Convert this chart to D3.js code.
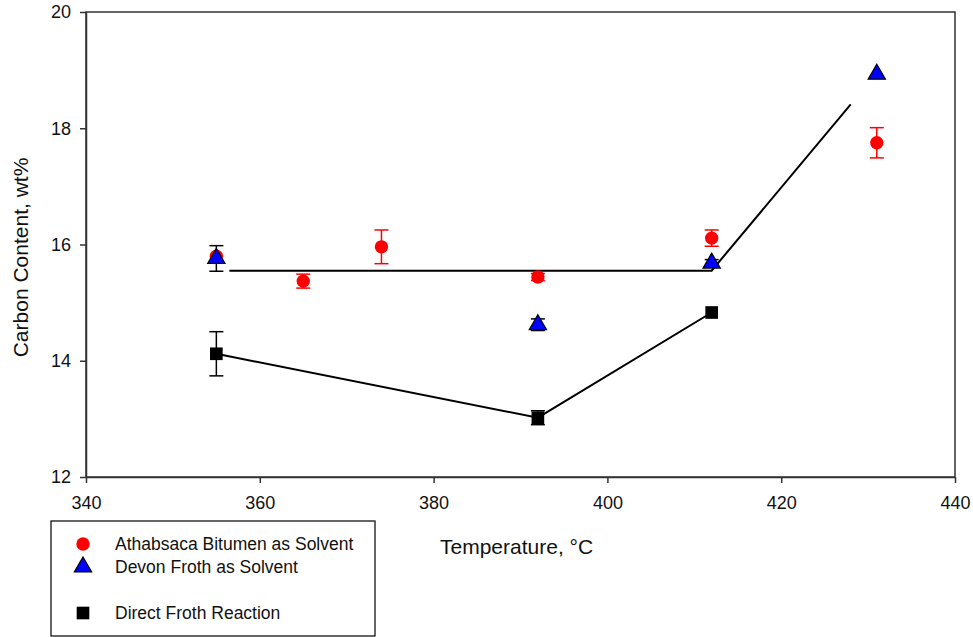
<!DOCTYPE html>
<html><head><meta charset="utf-8">
<script src="https://cdn.jsdelivr.net/npm/d3@7"></script>
<style>body{margin:0;background:#fff}svg{display:block;font-family:"Liberation Sans",Arial,sans-serif}</style>
</head><body><svg id="c" width="973" height="637"></svg>
<script>
const athTemp = [355, 365, 374, 392, 412, 431];
const athVal  = [15.80, 15.37, 15.96, 15.44, 16.11, 17.75];
const athErr  = [0.00, 0.12, 0.29, 0.06, 0.14, 0.26];
const devTemp = [355, 392, 412, 431];
const devVal  = [15.76, 14.62, 15.68, 18.93];
const devErr  = [0.22, 0.10, 0.06, 0.00];
const dirTemp = [355, 392, 412];
const dirVal  = [14.12, 13.02, 14.83];
const dirErr  = [0.38, 0.12, 0.00];
const fitTemp = [356.5, 412, 428];
const fitVal  = [15.55, 15.55, 18.41];
const xTicks = [340, 360, 380, 400, 420, 440];
const yTicks = [12, 14, 16, 18, 20];

const svg = d3.select("#c");
const x = d3.scaleLinear().domain([340, 440]).range([86, 955]);
const y = d3.scaleLinear().domain([12, 20]).range([477, 12]);
const axisCol = "#333";

svg.append("rect").attr("x", x(340)).attr("y", y(20)).attr("width", x(440)-x(340)).attr("height", y(12)-y(20))
  .attr("fill", "none").attr("stroke", axisCol).attr("stroke-width", 1.5);

const gx = svg.append("g").attr("transform", `translate(0,${y(12)})`)
  .call(d3.axisBottom(x).tickValues(xTicks).tickSize(6).tickPadding(13).tickSizeOuter(0));
const gy = svg.append("g").attr("transform", `translate(${x(340)},0)`)
  .call(d3.axisLeft(y).tickValues(yTicks).tickSize(6).tickPadding(9).tickSizeOuter(0));
[gx, gy].forEach(g => {
  g.select(".domain").attr("stroke", axisCol).attr("stroke-width", 1.5);
  g.selectAll(".tick line").attr("stroke", axisCol).attr("stroke-width", 1.5);
  g.selectAll(".tick text").attr("fill", "#111").attr("font-size", 18).attr("font-family", "Liberation Sans, Arial, sans-serif");
});

svg.append("text").attr("x", 440).attr("y", 554).attr("font-size", 21).attr("fill", "#111").text("Temperature, °C");
svg.append("text").attr("transform", `translate(28,${(y(12)+y(20))/2 + 13}) rotate(-90)`).attr("text-anchor", "middle")
  .attr("font-size", 21).attr("fill", "#111").text("Carbon Content, wt%");

const line = d3.line().x(d => x(d[0])).y(d => y(d[1]));
svg.append("path").attr("d", line(fitTemp.map((t, i) => [t, fitVal[i]])))
  .attr("fill", "none").attr("stroke", "#000").attr("stroke-width", 2);
svg.append("path").attr("d", line(dirTemp.map((t, i) => [t, dirVal[i]])))
  .attr("fill", "none").attr("stroke", "#000").attr("stroke-width", 2);

function errBars(ts, vs, es, col) {
  ts.forEach((t, i) => {
    if (!es[i]) return;
    const cx = x(t), y1 = y(vs[i] + es[i]), y2 = y(vs[i] - es[i]);
    const g = svg.append("g").attr("stroke", col).attr("stroke-width", 1.5);
    g.append("line").attr("x1", cx).attr("x2", cx).attr("y1", y1).attr("y2", y2);
    g.append("line").attr("x1", cx-7).attr("x2", cx+7).attr("y1", y1).attr("y2", y1);
    g.append("line").attr("x1", cx-7).attr("x2", cx+7).attr("y1", y2).attr("y2", y2);
  });
}
errBars(athTemp, athVal, athErr, "#ff0000");
errBars(dirTemp, dirVal, dirErr, "#000");
errBars(devTemp, devVal, devErr, "#000");

const circ = d3.symbol().type(d3.symbolCircle).size(140);
const tri = d3.symbol().type(d3.symbolTriangle).size(130);
const sq = d3.symbol().type(d3.symbolSquare).size(160);

athTemp.forEach((t, i) => svg.append("path").attr("d", circ()).attr("transform", `translate(${x(t)},${y(athVal[i])})`).attr("fill", "#ff0000"));
dirTemp.forEach((t, i) => svg.append("path").attr("d", sq()).attr("transform", `translate(${x(t)},${y(dirVal[i])})`).attr("fill", "#000"));
devTemp.forEach((t, i) => svg.append("path").attr("d", tri()).attr("transform", `translate(${x(t)},${y(devVal[i])})`).attr("fill", "#0000ff").attr("stroke", "#000").attr("stroke-width", 1.2));

svg.append("rect").attr("x", 51).attr("y", 521).attr("width", 324).attr("height", 115).attr("fill", "#fff").attr("stroke", "#000").attr("stroke-width", 1.2);
const legend = [
  {label: "Athabsaca Bitumen as Solvent", sym: circ, fill: "#ff0000", stroke: "none", y: 544},
  {label: "Devon Froth as Solvent", sym: tri, fill: "#0000ff", stroke: "#000", y: 567},
  {label: "Direct Froth Reaction", sym: sq, fill: "#000", stroke: "none", y: 613}
];
legend.forEach(d => {
  svg.append("path").attr("d", d.sym()).attr("transform", `translate(83,${d.y})`).attr("fill", d.fill).attr("stroke", d.stroke).attr("stroke-width", 1.2);
  svg.append("text").attr("x", 115).attr("y", d.y + 6).attr("font-size", 17.5).attr("fill", "#111").text(d.label);
});
</script></body></html>
